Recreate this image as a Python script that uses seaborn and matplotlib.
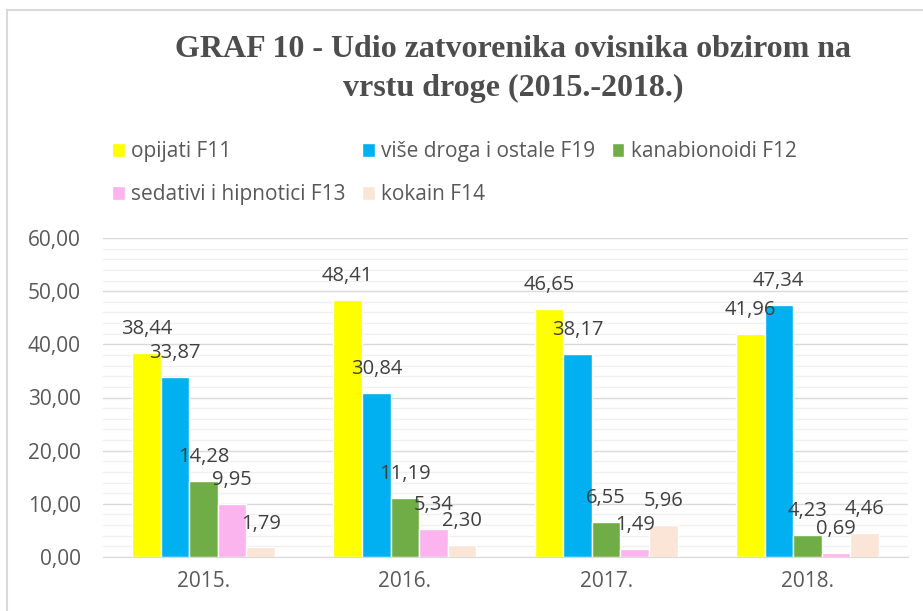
import matplotlib.pyplot as plt
from matplotlib.patches import Rectangle
from matplotlib.ticker import MultipleLocator, FuncFormatter
import pandas as pd
import seaborn as sns

years = ["2015.", "2016.", "2017.", "2018."]
drugs = ["opijati F11", "više droga i ostale F19", "kanabionoidi F12",
         "sedativi i hipnotici F13", "kokain F14"]
opijati = [38.44, 48.41, 46.65, 41.96]
vise_droga = [33.87, 30.84, 38.17, 47.34]
kanabinoidi = [14.28, 11.19, 6.55, 4.23]
sedativi = [9.95, 5.34, 1.49, 0.69]
kokain = [1.79, 2.30, 5.96, 4.46]
colors = ["#FFFF00", "#00B0F0", "#70AD47", "#FBB4EE", "#FBE5D6"]

series = [opijati, vise_droga, kanabinoidi, sedativi, kokain]
rows = []
for drug, vals in zip(drugs, series):
    for year, v in zip(years, vals):
        rows.append({"godina": year, "droga": drug, "udio": v})
df = pd.DataFrame(rows)

sns.set_style("white")
plt.rcParams["font.family"] = ["Open Sans", "DejaVu Sans"]

fig = plt.figure(figsize=(9.23, 6.11), dpi=100)
ax = fig.add_axes([103 / 923, 1 - 557 / 611, 805 / 923, 319 / 611])

sns.barplot(data=df, x="godina", y="udio", hue="droga", hue_order=drugs,
            palette=colors, saturation=1, width=0.71, ax=ax)

def comma(v):
    return f"{v:.2f}".replace(".", ",")

for cont in ax.containers:
    ax.bar_label(cont, labels=[comma(b.get_height()) for b in cont],
                 padding=10, fontsize=14.5, color="#404040")

ax.set_ylim(0, 60)
ax.yaxis.set_major_locator(MultipleLocator(10))
ax.yaxis.set_minor_locator(MultipleLocator(2))
ax.yaxis.set_major_formatter(FuncFormatter(lambda v, p: comma(v)))
ax.grid(axis="y", which="major", color="#D9D9D9", lw=1)
ax.grid(axis="y", which="minor", color="#F0F0F0", lw=1)
ax.set_axisbelow(True)
ax.tick_params(axis="both", length=0, labelsize=15, colors="#595959", pad=16)
ax.tick_params(axis="x", pad=10)
ax.set_xlabel("")
ax.set_ylabel("")
for s in ["left", "right", "top"]:
    ax.spines[s].set_visible(False)
ax.spines["bottom"].set_color("#D9D9D9")

handles, labels = ax.get_legend_handles_labels()
ax.get_legend().remove()
order = [0, 3, 1, 4, 2]
fig.legend([handles[i] for i in order], [labels[i] for i in order],
           loc="upper left", bbox_to_anchor=(104 / 923, 1 - 133 / 611),
           ncol=3, frameon=False, fontsize=15, labelcolor="#595959",
           handlelength=0.6, handleheight=0.7, handletextpad=0.3,
           columnspacing=0.8, labelspacing=1.05, borderaxespad=0)

fig.text(513 / 923, 1 - 69 / 611,
         "GRAF 10 - Udio zatvorenika ovisnika obzirom na\nvrstu droge (2015.-2018.)",
         ha="center", va="center", fontsize=23, fontweight="bold",
         family="Liberation Serif", color="#4D4D4D", linespacing=1.45)

fig.add_artist(Rectangle((7 / 923, -0.1), 1.1, 0.1 + (611 - 10) / 611,
                         transform=fig.transFigure, fill=False,
                         edgecolor="#D9D9D9", lw=1.5))

fig.savefig("out.png", dpi=100)
